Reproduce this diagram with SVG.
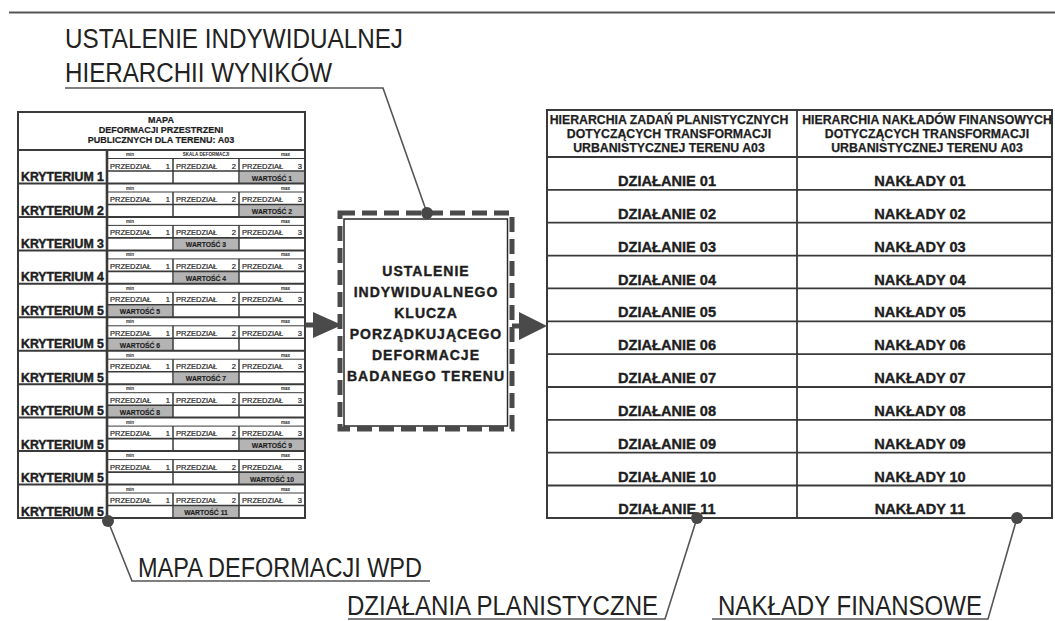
<svg xmlns="http://www.w3.org/2000/svg" width="1055" height="621" viewBox="0 0 1055 621">
<style>
text{font-family:"Liberation Sans",Arial,sans-serif;fill:#1e1e1e}
.big{font-size:27px;fill:#222}
.kr{font-size:12.3px;font-weight:bold;stroke:#1e1e1e;stroke-width:0.45}
.hd{font-size:9px;font-weight:bold;text-anchor:middle;stroke:#1e1e1e;stroke-width:0.2}
.pr{font-size:7.5px;stroke:#1e1e1e;stroke-width:0.2}
.val{font-size:6.8px;font-weight:bold;text-anchor:middle;stroke:#1e1e1e;stroke-width:0.15}
.mm{font-size:4.5px;font-weight:bold}
.key{font-size:14px;font-weight:bold;text-anchor:middle;letter-spacing:1px;stroke:#1e1e1e;stroke-width:0.4}
.rh{font-size:12.3px;font-weight:bold;text-anchor:middle;stroke:#1e1e1e;stroke-width:0.25}
.rt{font-size:14.6px;font-weight:bold;text-anchor:middle;stroke:#1e1e1e;stroke-width:0.35}
.ln{fill:none;stroke:#3a3a3a}
.gray{fill:#b4b4b4}
.lead{fill:none;stroke:#555;stroke-width:1.6}
.dot{fill:#474747}
.arr{fill:#4a4a4a}
</style>
<line x1="9" y1="12.5" x2="1055" y2="12.5" stroke="#555" stroke-width="2"/>

<g id="label-title">
<text class="big" x="65" y="48" textLength="338" lengthAdjust="spacingAndGlyphs">USTALENIE INDYWIDUALNEJ</text>
<text class="big" x="65" y="82" textLength="267" lengthAdjust="spacingAndGlyphs">HIERARCHII WYNIKÓW</text>
</g>

<g id="left-table">
<rect x="18" y="112" width="287" height="406" fill="#fff"/>
<g class="gray">
<rect x="240" y="171.5" width="64" height="11.5"/>
<rect x="240" y="205" width="64" height="11.4"/>
<rect x="174" y="238.4" width="65" height="11.5"/>
<rect x="174" y="271.9" width="65" height="11.4"/>
<rect x="108" y="305.3" width="65" height="11.5"/>
<rect x="108" y="338.8" width="65" height="11.4"/>
<rect x="174" y="372.2" width="65" height="11.5"/>
<rect x="108" y="405.7" width="65" height="11.4"/>
<rect x="240" y="439.1" width="64" height="11.5"/>
<rect x="240" y="472.6" width="64" height="11.4"/>
<rect x="174" y="506" width="65" height="11.5"/>
</g>
<rect class="ln" x="18" y="112" width="287" height="406" stroke-width="2"/>
<path class="ln" stroke-width="2" d="M18 150H305M18 183.5H305M18 216.9H305M18 250.4H305M18 283.8H305M18 317.3H305M18 350.7H305M18 384.2H305M18 417.6H305M18 451.1H305M18 484.5H305"/>
<path class="ln" stroke-width="2.6" d="M107 150V518"/>
<path class="ln" stroke-width="1" d="M107 158.5H305M107 192H305M107 225.4H305M107 258.9H305M107 292.3H305M107 325.8H305M107 359.2H305M107 392.7H305M107 426.1H305M107 459.6H305M107 493H305"/>
<path class="ln" stroke-width="1.6" d="M107 171H305M107 204.5H305M107 237.9H305M107 271.4H305M107 304.8H305M107 338.3H305M107 371.7H305M107 405.2H305M107 438.6H305M107 472.1H305M107 505.5H305"/>
<path class="ln" stroke-width="1.5" d="M173 158.5V183.5M239 158.5V183.5M173 192V216.9M239 192V216.9M173 225.4V250.4M239 225.4V250.4M173 258.9V283.8M239 258.9V283.8M173 292.3V317.3M239 292.3V317.3M173 325.8V350.7M239 325.8V350.7M173 359.2V384.2M239 359.2V384.2M173 392.7V417.6M239 392.7V417.6M173 426.1V451.1M239 426.1V451.1M173 459.6V484.5M239 459.6V484.5M173 493V518M239 493V518"/>
<text class="hd" x="161" y="123">MAPA</text>
<text class="hd" x="161" y="133">DEFORMACJI PRZESTRZENI</text>
<text class="hd" x="161" y="143">PUBLICZNYCH DLA TERENU: A03</text>
<g class="mm">
<text x="126" y="156">min</text><text x="206" y="156" text-anchor="middle">SKALA DEFORMACJI</text><text x="281" y="156">max</text>
<text x="126" y="189.5">min</text><text x="281" y="189.5">max</text>
<text x="126" y="222.9">min</text><text x="281" y="222.9">max</text>
<text x="126" y="256.4">min</text><text x="281" y="256.4">max</text>
<text x="126" y="289.8">min</text><text x="281" y="289.8">max</text>
<text x="126" y="323.3">min</text><text x="281" y="323.3">max</text>
<text x="126" y="356.7">min</text><text x="281" y="356.7">max</text>
<text x="126" y="390.2">min</text><text x="281" y="390.2">max</text>
<text x="126" y="423.6">min</text><text x="281" y="423.6">max</text>
<text x="126" y="457.1">min</text><text x="281" y="457.1">max</text>
<text x="126" y="490.5">min</text><text x="281" y="490.5">max</text>
</g>
<g class="pr">
<text x="110" y="168.5">PRZEDZIAŁ <tspan x="170" text-anchor="end">1</tspan></text><text x="176" y="168.5">PRZEDZIAŁ <tspan x="236" text-anchor="end">2</tspan></text><text x="242" y="168.5">PRZEDZIAŁ <tspan x="302" text-anchor="end">3</tspan></text>
<text x="110" y="202">PRZEDZIAŁ <tspan x="170" text-anchor="end">1</tspan></text><text x="176" y="202">PRZEDZIAŁ <tspan x="236" text-anchor="end">2</tspan></text><text x="242" y="202">PRZEDZIAŁ <tspan x="302" text-anchor="end">3</tspan></text>
<text x="110" y="235.4">PRZEDZIAŁ <tspan x="170" text-anchor="end">1</tspan></text><text x="176" y="235.4">PRZEDZIAŁ <tspan x="236" text-anchor="end">2</tspan></text><text x="242" y="235.4">PRZEDZIAŁ <tspan x="302" text-anchor="end">3</tspan></text>
<text x="110" y="268.9">PRZEDZIAŁ <tspan x="170" text-anchor="end">1</tspan></text><text x="176" y="268.9">PRZEDZIAŁ <tspan x="236" text-anchor="end">2</tspan></text><text x="242" y="268.9">PRZEDZIAŁ <tspan x="302" text-anchor="end">3</tspan></text>
<text x="110" y="302.3">PRZEDZIAŁ <tspan x="170" text-anchor="end">1</tspan></text><text x="176" y="302.3">PRZEDZIAŁ <tspan x="236" text-anchor="end">2</tspan></text><text x="242" y="302.3">PRZEDZIAŁ <tspan x="302" text-anchor="end">3</tspan></text>
<text x="110" y="335.8">PRZEDZIAŁ <tspan x="170" text-anchor="end">1</tspan></text><text x="176" y="335.8">PRZEDZIAŁ <tspan x="236" text-anchor="end">2</tspan></text><text x="242" y="335.8">PRZEDZIAŁ <tspan x="302" text-anchor="end">3</tspan></text>
<text x="110" y="369.2">PRZEDZIAŁ <tspan x="170" text-anchor="end">1</tspan></text><text x="176" y="369.2">PRZEDZIAŁ <tspan x="236" text-anchor="end">2</tspan></text><text x="242" y="369.2">PRZEDZIAŁ <tspan x="302" text-anchor="end">3</tspan></text>
<text x="110" y="402.7">PRZEDZIAŁ <tspan x="170" text-anchor="end">1</tspan></text><text x="176" y="402.7">PRZEDZIAŁ <tspan x="236" text-anchor="end">2</tspan></text><text x="242" y="402.7">PRZEDZIAŁ <tspan x="302" text-anchor="end">3</tspan></text>
<text x="110" y="436.1">PRZEDZIAŁ <tspan x="170" text-anchor="end">1</tspan></text><text x="176" y="436.1">PRZEDZIAŁ <tspan x="236" text-anchor="end">2</tspan></text><text x="242" y="436.1">PRZEDZIAŁ <tspan x="302" text-anchor="end">3</tspan></text>
<text x="110" y="469.6">PRZEDZIAŁ <tspan x="170" text-anchor="end">1</tspan></text><text x="176" y="469.6">PRZEDZIAŁ <tspan x="236" text-anchor="end">2</tspan></text><text x="242" y="469.6">PRZEDZIAŁ <tspan x="302" text-anchor="end">3</tspan></text>
<text x="110" y="503">PRZEDZIAŁ <tspan x="170" text-anchor="end">1</tspan></text><text x="176" y="503">PRZEDZIAŁ <tspan x="236" text-anchor="end">2</tspan></text><text x="242" y="503">PRZEDZIAŁ <tspan x="302" text-anchor="end">3</tspan></text>
</g>
<g class="val">
<text x="272" y="180.5">WARTOŚĆ 1</text>
<text x="272" y="213.9">WARTOŚĆ 2</text>
<text x="206" y="247.4">WARTOŚĆ 3</text>
<text x="206" y="280.8">WARTOŚĆ 4</text>
<text x="140" y="314.3">WARTOŚĆ 5</text>
<text x="140" y="347.7">WARTOŚĆ 6</text>
<text x="206" y="381.2">WARTOŚĆ 7</text>
<text x="140" y="414.6">WARTOŚĆ 8</text>
<text x="272" y="448.1">WARTOŚĆ 9</text>
<text x="272" y="481.5">WARTOŚĆ 10</text>
<text x="206" y="515">WARTOŚĆ 11</text>
</g>
<g class="kr">
<text x="21" y="181">KRYTERIUM 1</text>
<text x="21" y="214.5">KRYTERIUM 2</text>
<text x="21" y="247.9">KRYTERIUM 3</text>
<text x="21" y="281.4">KRYTERIUM 4</text>
<text x="21" y="314.8">KRYTERIUM 5</text>
<text x="21" y="348.3">KRYTERIUM 5</text>
<text x="21" y="381.7">KRYTERIUM 5</text>
<text x="21" y="415.2">KRYTERIUM 5</text>
<text x="21" y="448.6">KRYTERIUM 5</text>
<text x="21" y="482.1">KRYTERIUM 5</text>
<text x="21" y="515.5">KRYTERIUM 5</text>
</g>
</g>

<g id="key-box">
<rect x="340" y="213" width="172" height="216" fill="none" stroke="#4a4a4a" stroke-width="5" stroke-dasharray="15 7"/>
<rect x="344" y="219" width="163.5" height="207" fill="#fff" stroke="#2a2a2a" stroke-width="1.5"/>
<text class="key" x="426" y="276">USTALENIE</text>
<text class="key" x="426" y="297">INDYWIDUALNEGO</text>
<text class="key" x="426" y="318">KLUCZA</text>
<text class="key" x="426" y="339">PORZĄDKUJĄCEGO</text>
<text class="key" x="426" y="360">DEFORMACJE</text>
<text class="key" x="426" y="381">BADANEGO TERENU</text>
</g>

<g id="right-table">
<rect x="547" y="110" width="505" height="408" fill="#fff" stroke="#3a3a3a" stroke-width="2"/>
<path class="ln" stroke-width="1.8" d="M797 110V518M547 157H1052M547 189.9H1052M547 222.7H1052M547 255.6H1052M547 288.4H1052M547 321.3H1052M547 354.1H1052M547 387H1052M547 419.8H1052M547 452.7H1052M547 485.5H1052"/>
<text class="rh" x="669" y="124">HIERARCHIA ZADAŃ PLANISTYCZNYCH</text>
<text class="rh" x="669" y="138">DOTYCZĄCYCH TRANSFORMACJI</text>
<text class="rh" x="669" y="152">URBANISTYCZNEJ TERENU A03</text>
<text class="rh" x="927" y="124">HIERARCHIA NAKŁADÓW FINANSOWYCH</text>
<text class="rh" x="927" y="138">DOTYCZĄCYCH TRANSFORMACJI</text>
<text class="rh" x="927" y="152">URBANISTYCZNEJ TERENU A03</text>
<g class="rt">
<text x="667" y="186">DZIAŁANIE 01</text><text x="920" y="186">NAKŁADY 01</text>
<text x="667" y="218.8">DZIAŁANIE 02</text><text x="920" y="218.8">NAKŁADY 02</text>
<text x="667" y="251.6">DZIAŁANIE 03</text><text x="920" y="251.6">NAKŁADY 03</text>
<text x="667" y="284.5">DZIAŁANIE 04</text><text x="920" y="284.5">NAKŁADY 04</text>
<text x="667" y="317.3">DZIAŁANIE 05</text><text x="920" y="317.3">NAKŁADY 05</text>
<text x="667" y="350.2">DZIAŁANIE 06</text><text x="920" y="350.2">NAKŁADY 06</text>
<text x="667" y="383">DZIAŁANIE 07</text><text x="920" y="383">NAKŁADY 07</text>
<text x="667" y="415.9">DZIAŁANIE 08</text><text x="920" y="415.9">NAKŁADY 08</text>
<text x="667" y="448.7">DZIAŁANIE 09</text><text x="920" y="448.7">NAKŁADY 09</text>
<text x="667" y="481.6">DZIAŁANIE 10</text><text x="920" y="481.6">NAKŁADY 10</text>
<text x="667" y="514.4">DZIAŁANIE 11</text><text x="920" y="514.4">NAKŁADY 11</text>
</g>
</g>

<g id="label-mapa">
<text class="big" x="138" y="577" textLength="284" lengthAdjust="spacingAndGlyphs">MAPA DEFORMACJI WPD</text>
</g>
<g id="label-dzialania">
<text class="big" x="347" y="615" textLength="311" lengthAdjust="spacingAndGlyphs">DZIAŁANIA PLANISTYCZNE</text>
</g>
<g id="label-naklady">
<text class="big" x="718" y="615" textLength="264" lengthAdjust="spacingAndGlyphs">NAKŁADY FINANSOWE</text>
</g>

<g id="connectors">
<polyline class="lead" points="65,88 383,88 427,213"/>
<circle class="dot" cx="427" cy="213" r="6"/>
<polyline class="lead" points="108,521 132,581 430,581"/>
<circle class="dot" cx="108" cy="521" r="6"/>
<polyline class="lead" points="697,518 665,619 348,619"/>
<circle class="dot" cx="697" cy="518" r="6"/>
<polyline class="lead" points="1017,518 988,619 712,619"/>
<circle class="dot" cx="1017" cy="518" r="6"/>
<rect class="arr" x="305" y="322.5" width="10" height="5"/>
<polygon class="arr" points="313,312 342,325 313,338"/>
<rect class="arr" x="512" y="323.5" width="9" height="5"/>
<polygon class="arr" points="519,312 547,326 519,340"/>
</g>
</svg>
